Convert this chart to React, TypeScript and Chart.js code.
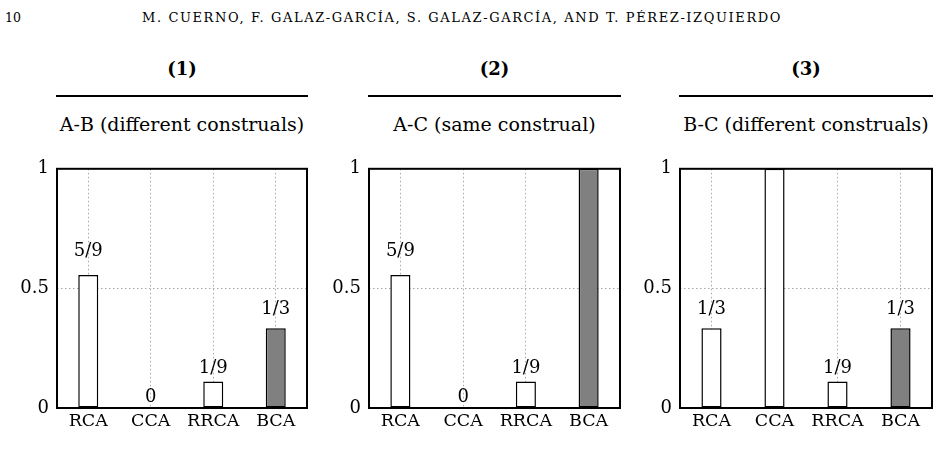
import React, { useEffect, useRef } from "react";
import { Chart, registerables } from "chart.js";

Chart.register(...registerables);

// ---------- data ----------
const categories = ["RCA", "CCA", "RRCA", "BCA"];
const valuesAB = [5 / 9, 0, 1 / 9, 1 / 3];
const valuesAC = [5 / 9, 0, 1 / 9, 1];
const valuesBC = [1 / 3, 1, 1 / 9, 1 / 3];
const textsAB = ["5/9", "0", "1/9", "1/3"];
const textsAC = ["5/9", "0", "1/9", "1"];
const textsBC = ["1/3", "1", "1/9", "1/3"];
const barFills = ["#ffffff", "#ffffff", "#ffffff", "#808080"];
const yTickValues = [0, 0.5, 1];
const yTickLabels = ["0", "0.5", "1"];
const panelNumbers = ["(1)", "(2)", "(3)"];
const panelTitles = ["A-B (different construals)", "A-C (same construal)", "B-C (different construals)"];
const pageNumber = "10";
const runningHead = "M. CUERNO, F. GALAZ-GARCÍA, S. GALAZ-GARCÍA, AND T. PÉREZ-IZQUIERDO";

const panelValues = [valuesAB, valuesAC, valuesBC];
const panelTexts = [textsAB, textsAC, textsBC];

// ---------- layout (styling only) ----------
const FONT = "'DejaVu Serif', serif";
const PANELS = [
  { left: 57, width: 250 },
  { left: 369, width: 251 },
  { left: 680, width: 252 },
];
const AXIS_W = 50;
const AXIS_H = 32;
const PAD_TOP = 8;
const PAD_RIGHT = 6;
const CANVAS_TOP = 150;
const CANVAS_H = 290;

const frameAndLabels = {
  id: "frameAndLabels",
  afterDatasetsDraw(chart: any, _args: any, opts: any) {
    const { ctx, chartArea } = chart;
    const { left, top, right, bottom } = chartArea;
    const yScale = chart.scales.y;
    const data = chart.data.datasets[0].data as number[];
    const meta = chart.getDatasetMeta(0);
    ctx.save();
    ctx.strokeStyle = "#000";
    ctx.lineWidth = 2;
    ctx.strokeRect(left, top, right - left, bottom - top);
    ctx.fillStyle = "#000";
    ctx.font = `18px ${FONT}`;
    ctx.textAlign = "center";
    ctx.textBaseline = "middle";
    meta.data.forEach((el: any, i: number) => {
      const v = data[i];
      const yPix = yScale.getPixelForValue(1.1 * v + 0.045);
      if (yPix < top + 8) return;
      ctx.fillText(opts.texts[i], el.x, yPix);
    });
    ctx.restore();
  },
};

function Panel({ index }: { index: number }) {
  const ref = useRef<HTMLCanvasElement | null>(null);
  const p = PANELS[index];
  const canvasW = AXIS_W + p.width + PAD_RIGHT;
  useEffect(() => {
    if (!ref.current) return;
    const chart = new Chart(ref.current, {
      type: "bar",
      data: {
        labels: categories,
        datasets: [
          {
            data: panelValues[index],
            backgroundColor: barFills,
            borderColor: "#000",
            borderWidth: 1.5,
            borderSkipped: false,
            categoryPercentage: 1,
            barPercentage: 0.32,
          },
        ],
      },
      options: {
        animation: false,
        responsive: false,
        devicePixelRatio: 1,
        layout: { padding: { top: PAD_TOP, right: PAD_RIGHT, left: 0, bottom: 0 } },
        plugins: {
          legend: { display: false },
          tooltip: { enabled: false },
          frameAndLabels: { texts: panelTexts[index] },
        } as any,
        scales: {
          x: {
            offset: true,
            grid: {
              offset: false,
              drawTicks: false,
              color: "#a8a8a8",
              lineWidth: 1,
            },
            border: { display: false, dash: [1.5, 2.5] },
            ticks: {
              color: "#000",
              padding: 3,
              font: { family: FONT, size: 17.5 },
            },
            afterFit: (s: any) => {
              s.height = AXIS_H;
            },
          },
          y: {
            min: 0,
            max: 1,
            afterBuildTicks: (s: any) => {
              s.ticks = yTickValues.map((v) => ({ value: v }));
            },
            grid: {
              drawTicks: false,
              color: (c: any) => (c.tick && c.tick.value === 0.5 ? "#a8a8a8" : "rgba(0,0,0,0)"),
              lineWidth: 1,
            },
            border: { display: false, dash: [1.5, 2.5] },
            ticks: {
              color: "#000",
              padding: 8,
              font: { family: FONT, size: 18 },
              callback: (v: any) => yTickLabels[yTickValues.indexOf(Number(v))],
            },
            afterFit: (s: any) => {
              s.width = AXIS_W;
            },
          },
        },
      },
      plugins: [frameAndLabels],
    });
    return () => chart.destroy();
  }, [index]);

  return (
    <>
      <div
        style={{
          position: "absolute",
          left: p.left,
          width: p.width,
          top: 59.5,
          fontFamily: FONT,
          fontWeight: "bold",
          fontSize: 18,
          lineHeight: "18px",
          textAlign: "center",
          whiteSpace: "nowrap",
        }}
      >
        {panelNumbers[index]}
      </div>
      <div
        style={{
          position: "absolute",
          left: p.left - 1,
          width: p.width + 2,
          top: 95,
          height: 2,
          background: "#000",
        }}
      />
      <div
        style={{
          position: "absolute",
          left: p.left - 20,
          width: p.width + 40,
          top: 115,
          fontFamily: FONT,
          fontSize: 19,
          lineHeight: "19px",
          textAlign: "center",
          whiteSpace: "nowrap",
        }}
      >
        {panelTitles[index]}
      </div>
      <canvas
        ref={ref}
        width={canvasW}
        height={CANVAS_H}
        style={{
          position: "absolute",
          left: p.left - AXIS_W,
          top: CANVAS_TOP,
          width: canvasW,
          height: CANVAS_H,
        }}
      />
    </>
  );
}

export default function App() {
  return (
    <div
      style={{
        position: "fixed",
        left: 0,
        top: 0,
        width: 939,
        height: 462,
        overflow: "hidden",
        background: "#fff",
        color: "#000",
      }}
    >
      <div
        style={{
          position: "absolute",
          left: 5,
          top: 11.5,
          fontFamily: FONT,
          fontSize: 12.5,
          lineHeight: "12.5px",
          whiteSpace: "nowrap",
        }}
      >
        {pageNumber}
      </div>
      <div
        style={{
          position: "absolute",
          left: 142,
          top: 11,
          fontFamily: FONT,
          fontSize: 13,
          lineHeight: "13px",
          letterSpacing: "1.6px",
          whiteSpace: "nowrap",
        }}
      >
        {runningHead}
      </div>
      {[0, 1, 2].map((i) => (
        <Panel key={i} index={i} />
      ))}
    </div>
  );
}
